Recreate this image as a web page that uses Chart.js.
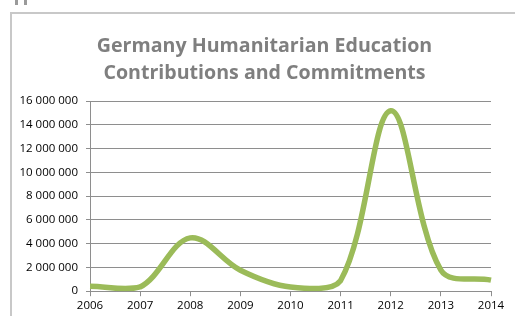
<!DOCTYPE html>
<html>
<head>
<meta charset="utf-8">
<script src="https://cdn.jsdelivr.net/npm/chart.js@4"></script>
<style>
  html, body { margin: 0; padding: 0; background: #fff; }
  #wrap { position: relative; width: 515px; height: 316px; overflow: hidden; }
  #frame { position: absolute; left: 10px; top: 12px; width: 520px; height: 320px;
           border-left: 2px solid #c8c8c8; border-top: 2px solid #c8c8c8; }
  .mark { position: absolute; top: 0; width: 3px; height: 5px; background: #9a9a9a; }
  canvas { position: absolute; left: 0; top: 0; }
</style>
</head>
<body>
<div id="wrap">
  <div class="mark" style="left:15px"></div>
  <div class="mark" style="left:24px"></div>
  <div id="frame"></div>
  <canvas id="chart" width="515" height="316"></canvas>
</div>
<script>
// years on the x axis
const years = ['2006', '2007', '2008', '2009', '2010', '2011', '2012', '2013', '2014'];
// contributions and commitments (USD)
const amounts = [420000, 360000, 4490000, 1770000, 360000, 900000, 15180000, 1770000, 930000];
const yMax = 16000000;
const yStep = 2000000;

function spaced(v) {
  return String(v).replace(/\B(?=(\d{3})+(?!\d))/g, ' ');
}

// nudge the title a bit to the right so it sits where the original one does
const titleShift = {
  id: 'titleShift',
  afterLayout(chart) {
    chart.titleBlock.left += 12;
    chart.titleBlock.right += 12;
  }
};

const ctx = document.getElementById('chart').getContext('2d');
const chart = new Chart(ctx, {
  type: 'line',
  data: {
    labels: years,
    datasets: [{
      data: amounts,
      borderColor: '#9bbb59',
      borderWidth: 5.5,
      pointRadius: 0,
      fill: false,
      tension: 0.35
    }]
  },
  options: {
    responsive: false,
    animation: false,
    layout: { padding: { left: 14, right: 24, top: 33, bottom: 0 } },
    plugins: {
      legend: { display: false },
      tooltip: { enabled: false },
      title: {
        display: true,
        text: ['Germany Humanitarian Education', 'Contributions and Commitments'],
        color: '#7f7f7f',
        font: { family: 'Open Sans', size: 19.6, weight: 'bold', lineHeight: 1.38 },
        padding: { top: 0, bottom: 14 }
      }
    },
    scales: {
      x: {
        offset: false,
        grid: { drawOnChartArea: false, drawTicks: true, tickLength: 5, color: '#8e8e8e' },
        border: { color: '#8e8e8e' },
        ticks: { color: '#000', font: { family: 'Open Sans', size: 11.5 }, padding: 3, maxRotation: 0 }
      },
      y: {
        min: 0,
        max: yMax,
        afterFit: s => { s.width = 76; },
        grid: { color: '#8e8e8e', tickLength: 4 },
        border: { color: '#8e8e8e' },
        ticks: {
          stepSize: yStep,
          color: '#000',
          font: { family: 'Open Sans', size: 11.5 },
          padding: 8,
          callback: v => spaced(v)
        }
      }
    }
  },
  plugins: [titleShift]
});
</script>
</body>
</html>
